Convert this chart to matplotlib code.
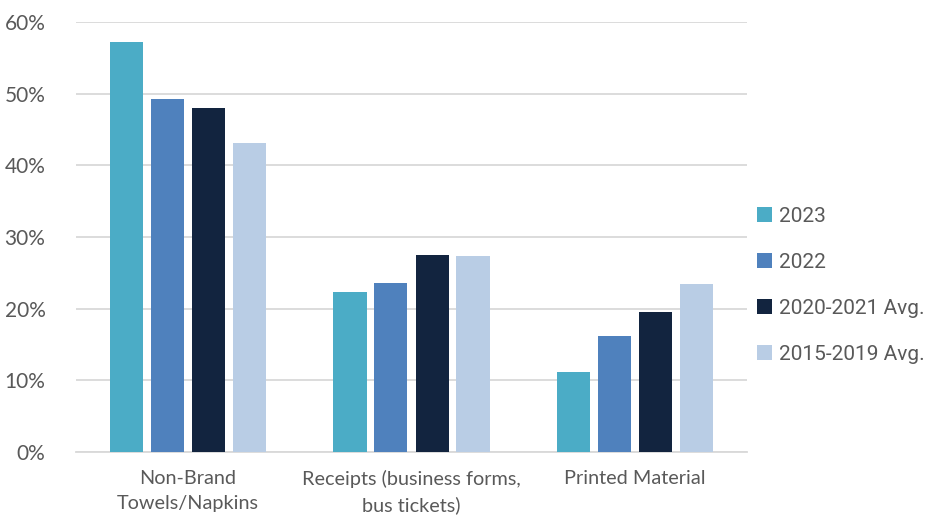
"""Grouped bar chart: share by category across periods."""
import numpy as np
import matplotlib.pyplot as plt
from matplotlib.ticker import PercentFormatter

categories = ["Non-Brand\nTowels/Napkins", "Receipts (business forms,\nbus tickets)",
              "Printed Material"]
series_names = ["2023", "2022", "2020-2021 Avg.", "2015-2019 Avg."]
v2023 = [0.572, 0.223, 0.112]
v2022 = [0.493, 0.236, 0.162]
v2020_21 = [0.480, 0.275, 0.195]
v2015_19 = [0.431, 0.273, 0.234]
colors = ["#4BACC6", "#4F81BD", "#12243F", "#B9CDE5"]


def main():
    plt.rcParams["font.family"] = ["Lato", "DejaVu Sans"]
    text_color = "#595959"

    fig = plt.figure(figsize=(9.27, 5.17), dpi=100)
    ax = fig.add_axes([0.082, 0.1257, 0.7238, 0.8317])

    x = np.arange(len(categories))
    offsets = [-0.275, -0.092, 0.092, 0.275]
    width = 0.148
    for vals, name, off, col in zip([v2023, v2022, v2020_21, v2015_19],
                                    series_names, offsets, colors):
        ax.bar(x + off, vals, width, color=col, label=name, zorder=3)

    ax.set_xlim(-0.5, 2.5)
    ax.set_ylim(0, 0.6)
    ax.set_yticks(np.arange(0, 0.61, 0.1))
    ax.yaxis.set_major_formatter(PercentFormatter(1.0, decimals=0))
    ax.grid(axis="y", color="#D9D9D9", linewidth=1.3, zorder=0)
    for s in ["top", "right", "left"]:
        ax.spines[s].set_visible(False)
    ax.spines["bottom"].set_color("#D9D9D9")
    ax.spines["bottom"].set_linewidth(1.3)

    ax.set_xticks(x)
    ax.set_xticklabels(categories)
    for lbl in ax.get_xticklabels():
        lbl.set_linespacing(1.55)
    ax.tick_params(axis="x", length=0, pad=13, labelsize=14.3, labelcolor=text_color)
    ax.tick_params(axis="y", length=0, pad=22, labelsize=15, labelcolor=text_color)

    leg = fig.legend(loc="center left", bbox_to_anchor=(0.808, 0.448), frameon=False,
                     fontsize=15, handlelength=0.7, handleheight=0.7,
                     handletextpad=0.35, labelspacing=1.3, borderaxespad=0)
    for t in leg.get_texts():
        t.set_color(text_color)
        t.set_family(["Roboto", "DejaVu Sans"])

    fig.savefig("out.png", dpi=100)


if __name__ == "__main__":
    main()
